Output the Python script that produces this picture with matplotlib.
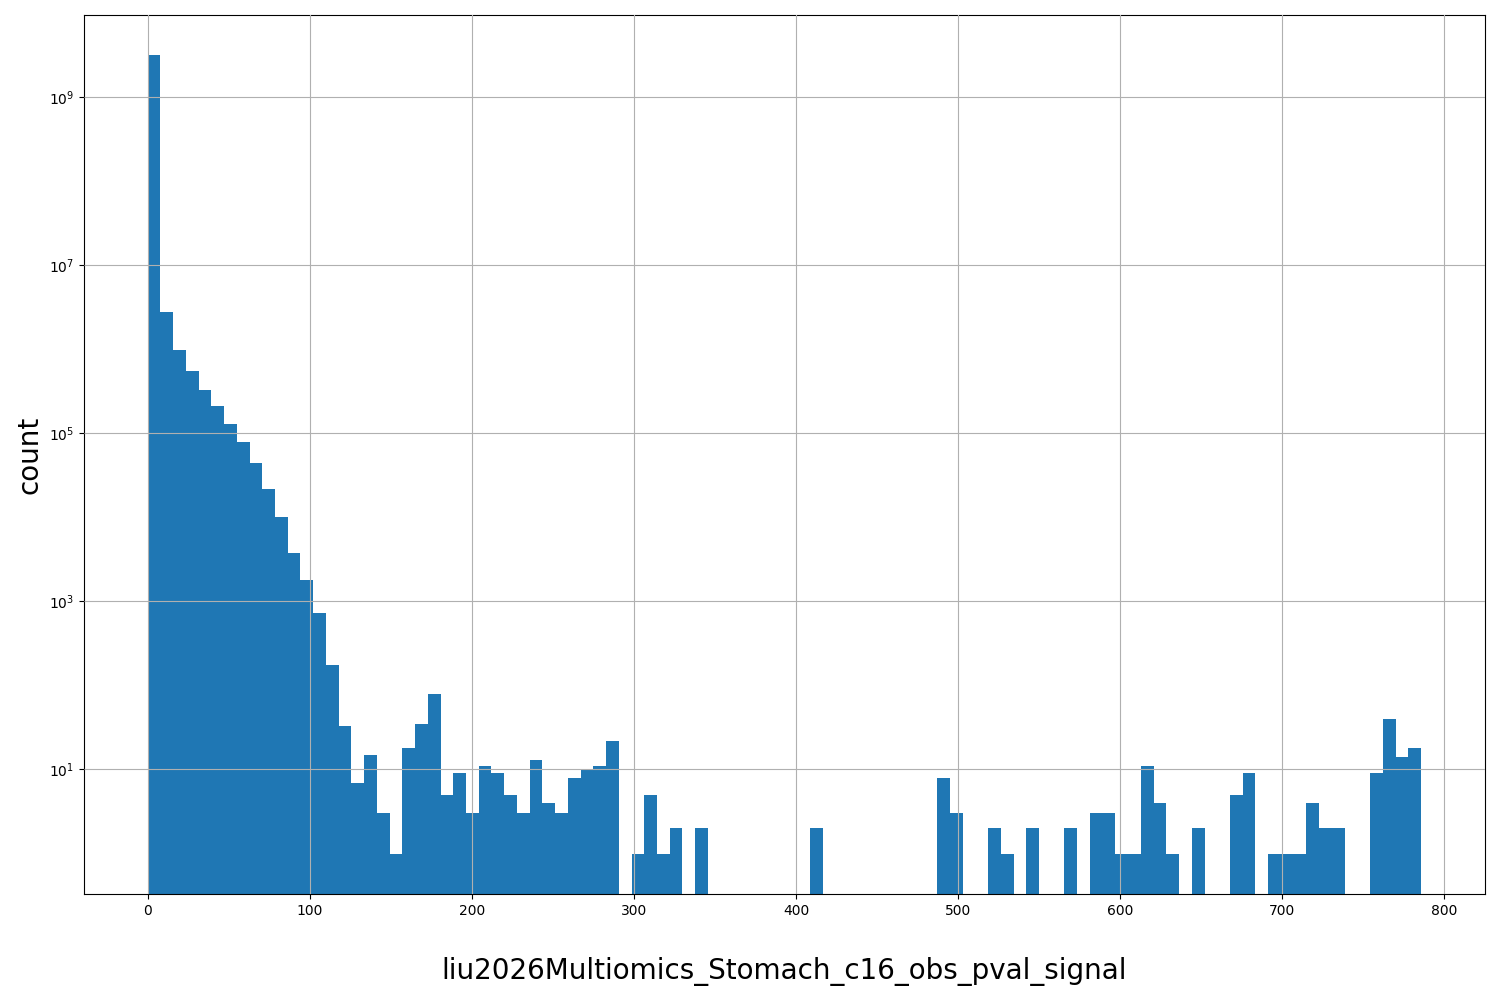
import numpy as np
import matplotlib
matplotlib.use("Agg")
import matplotlib.pyplot as plt

x_min, x_max, n_bins = 0.0, 785.5, 100
counts = [3.2e9, 2.8e6, 9.8e5, 5.5e5, 3.3e5, 2.1e5, 1.3e5, 7.8e4, 4.4e4, 2.2e4,
          1.0e4, 3.8e3, 1.8e3, 720, 175, 33, 7, 15, 3, 1,
          18, 35, 80, 5, 9, 3, 11, 9, 5, 3,
          13, 4, 3, 8, 10, 11, 22, 0, 1, 5,
          1, 2, 0, 2, 0, 0, 0, 0, 0, 0,
          0, 0, 2, 0, 0, 0, 0, 0, 0, 0,
          0, 0, 8, 3, 0, 0, 2, 1, 0, 2,
          0, 0, 2, 0, 3, 3, 1, 1, 11, 4,
          1, 0, 2, 0, 0, 5, 9, 0, 1, 1,
          1, 4, 2, 2, 0, 0, 9, 40, 14, 18]

edges = np.linspace(x_min, x_max, n_bins + 1)
centers = (edges[:-1] + edges[1:]) / 2

fig = plt.figure(figsize=(15, 10), dpi=100)
ax = fig.add_axes([0.056, 0.106, 0.934, 0.879])
ax.hist(centers, bins=edges, weights=counts, log=True, color="#1f77b4")
ax.set_ylim(0.33, 9.5e9)
ax.set_xlim(-39.3, 825)
ax.grid(True)
ax.set_axisbelow(False)
ax.set_xlabel("liu2026Multiomics_Stomach_c16_obs_pval_signal", fontsize=20, labelpad=28)
ax.set_ylabel("count", fontsize=20)
fig.savefig("out.png")
